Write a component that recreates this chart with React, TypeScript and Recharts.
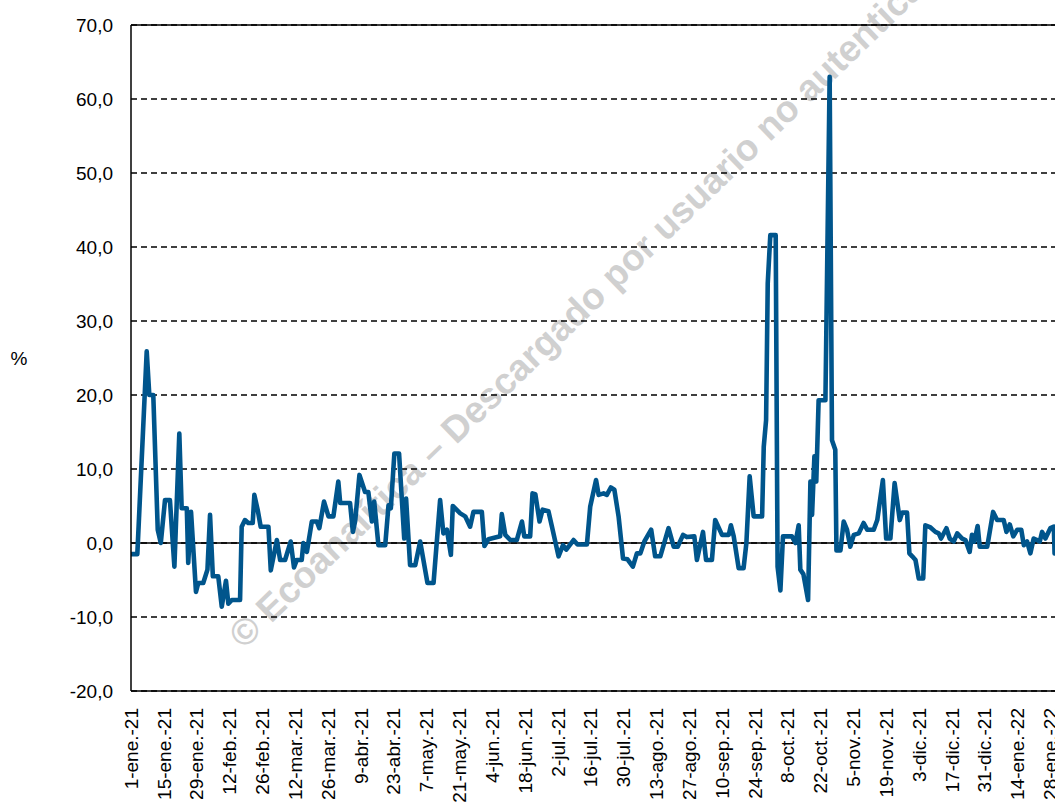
import React from 'react';
import { LineChart, Line, XAxis, YAxis, CartesianGrid, ReferenceLine } from 'recharts';

// Day offsets counted from 1-ene-21 and the series value (%) at each of them
const dayOffsets = [
  0, 2.7, 6.7, 7.8, 9.5, 11.4, 12.7, 14.5, 16.6, 18.5, 20.6, 21.6, 23.8, 24.4, 25.6, 27.7, 28.7, 30.8,
  32.6, 33.7, 34.9, 37.2, 38.7, 40.5, 41.5, 43, 46.5, 47.2, 48.6, 50, 51.9, 52.6, 54, 55.3, 58.6, 59.6,
  62.2, 63.6, 65.7, 68.1, 69.5, 70.7, 72.8, 73.5, 75, 77.1, 79.2, 80.3, 82.3, 84.2, 86.3, 88.4, 89.2,
  93.4, 94.6, 95.6, 97.4, 99.8, 101.2, 102.7, 103.7, 105.5, 108.4, 109.8, 110.8, 112.3, 114.3, 116.5,
  117.3, 119, 121.2, 123.3, 126.4, 129, 131.8, 133.2, 134.7, 136.4, 137.2, 140.4, 142.5, 144.6, 146,
  149.6, 150.7, 152.4, 157.4, 158.1, 159.6, 161.7, 164.5, 166.7, 167.7, 170.2, 171.2, 172.4, 174.2,
  175.5, 178, 179.5, 182.3, 184.2, 185.6, 188.7, 190.4, 194.4, 195.8, 198.3, 199.4, 201.5, 202.9,
  204.6, 206.1, 207.9, 209.8, 211.7, 214, 215.7, 217.2, 218.9, 221.8, 223.5, 225.7, 229.2, 231.4,
  233.1, 235.4, 237, 240.2, 241.3, 243.9, 245.2, 247.7, 249.1, 252, 254.9, 255.8, 257, 259.1, 261.2,
  262.4, 263.8, 265.5, 269.1, 269.8, 270.8, 271.5, 272.6, 274.9, 275.7, 276.9, 278, 281.8, 283.3,
  284.7, 285.4, 286.7, 288.7, 289.7, 290.4, 291.4, 292.2, 293.2, 296.1, 297.9, 298.9, 300.3, 300.8,
  302.5, 303.9, 305.3, 306.7, 308.2, 310.3, 312.4, 313.9, 316.7, 318.2, 320.6, 322, 323.8, 325.6,
  327.8, 328.8, 330.9, 331.9, 333.1, 334.5, 335.9, 337.8, 338.7, 340.9, 343, 344.4, 345.4, 347.7,
  349.1, 350.8, 352.3, 354.4, 355.8, 357.6, 358.6, 359.6, 361, 361.9, 365.1, 367.6, 369.3, 372.1,
  373.3, 374.7, 376.2, 377.9, 379.6, 380.7, 382.1, 383.5, 384.9, 386.4, 387.5, 388.5, 389.9, 392,
  393.5, 393.8, 396,
];

const seriesValues = [
  -1.5, -1.5, 25.9, 20, 20, 1.8, 0, 5.8, 5.8, -3.2, 14.8, 4.7, 4.7, -2.7, 4.2, -6.6, -5.4, -5.4,
  -3.6, 3.8, -4.5, -4.5, -8.6, -5.1, -8.2, -7.7, -7.7, 2.2, 3.1, 2.7, 2.7, 6.5, 4.5, 2.2, 2.2, -3.7,
  0.4, -2.3, -2.3, 0.2, -3.3, -2.3, -2.3, 0, -1.2, 2.9, 2.9, 2, 5.6, 3.6, 3.6, 8.3, 5.4,
  5.4, 1.5, 3, 9.2, 6.9, 6.9, 2.9, 5.6, -0.3, -0.3, 5.1, 4.7, 12.1, 12.1, 0.6,
  6, -3, -3, 0.2, -5.4, -5.4, 5.8, 1.3, 1.8, -1.6, 5, 4, 3.6, 2.2, 4.2,
  4.2, -0.4, 0.5, 0.9, 3.9, 1.1, 0.4, 0.4, 2.9, 0.9, 0.9, 6.7, 6.6, 2.9,
  4.5, 4.3, 2.2, -1.8, -0.3, -0.9, 0.4, -0.2, -0.2, 4.9, 8.5, 6.5, 6.7, 6.5,
  7.5, 7.2, 3.6, -2.1, -2.2, -3.2, -1.4, -1.4, 0.2, 1.8, -1.8, -1.8, 2, -0.5,
  -0.5, 1.1, 0.8, 0.9, -2.3, 1.5, -2.3, -2.3, 3.1, 1.1, 1.1, 2.4, 0.9, -3.4, -3.4,
  0, 9, 3.6, 3.6, 13, 16.6, 35.1, 41.6, 41.6, -3.2, -6.4, 0.9, 0.9, 0,
  2.4, -3.6, -4.2, -7.7, 8.3, 3.8, 11.7, 8.3, 19.3, 19.3, 63, 13.9, 12.6, -1,
  -1, 2.9, 1.8, -0.5, 1.1, 1.3, 2.7, 1.8, 1.8, 3.1, 8.5, 0.6, 0.6, 8.1,
  3.1, 4.1, 4.1, -1.4, -1.8, -2.3, -4.8, -4.8, 2.4, 2.1, 1.5, 1.3, 0.6, 2,
  0.6, 0.2, 1.3, 0.6, 0.4, -1.2, 1.1, 0.2, 2.3, -0.5, -0.5, 4.2, 3.1, 3.1,
  1.5, 2.5, 0.9, 1.8, 1.8, -0.3, 0.2, -1.4, 0.6, 0.4, 0.2, 1.5, 0.6, 2,
  2.2, -1.4, -1.4,
];

const tickDays = [0, 14, 28, 42, 56, 70, 84, 98, 112, 126, 140, 154, 168, 182, 196, 210, 224, 238, 252, 266, 280, 294, 308, 322, 336, 350, 364, 378, 392];
const tickLabels = [
  '1-ene.-21', '15-ene.-21', '29-ene.-21', '12-feb.-21', '26-feb.-21', '12-mar.-21', '26-mar.-21',
  '9-abr.-21', '23-abr.-21', '7-may.-21', '21-may.-21', '4-jun.-21', '18-jun.-21', '2-jul.-21',
  '16-jul.-21', '30-jul.-21', '13-ago.-21', '27-ago.-21', '10-sep.-21', '24-sep.-21', '8-oct.-21',
  '22-oct.-21', '5-nov.-21', '19-nov.-21', '3-dic.-21', '17-dic.-21', '31-dic.-21', '14-ene.-22',
  '28-ene.-22',
];
const yTicks = [-20, -10, 0, 10, 20, 30, 40, 50, 60, 70];

const data = dayOffsets.map((d, i) => ({ d, v: seriesValues[i] }));

const FONT = '"Liberation Sans", Arial, sans-serif';

const XTick = (props: any) => {
  const { x, y, payload } = props;
  const idx = tickDays.indexOf(payload.value);
  const label = idx >= 0 ? tickLabels[idx] : '';
  const ty = y + 17;
  return (
    <text
      x={x}
      y={ty}
      dy="0.36em"
      textAnchor="end"
      transform={`rotate(-90, ${x}, ${ty})`}
      fontSize={19}
      fontFamily={FONT}
      fill="#000"
    >
      {label}
    </text>
  );
};

const YTick = (props: any) => {
  const { x, y, payload } = props;
  return (
    <text x={x - 18} y={y} dy="0.36em" textAnchor="end" fontSize={19} fontFamily={FONT} fill="#000">
      {Number(payload.value).toFixed(1).replace('.', ',')}
    </text>
  );
};

export default function App() {
  return (
    <div
      style={{
        position: 'absolute',
        left: 0,
        top: 0,
        width: 1055,
        height: 803,
        overflow: 'hidden',
        background: '#fff',
      }}
    >
      <svg width={1055} height={803} style={{ position: 'absolute', left: 0, top: 0 }}>
        <text
          x={244}
          y={650}
          transform="rotate(-44, 244, 650)"
          fontSize={37}
          fontWeight="bold"
          fontFamily={FONT}
          fill="#d0d0d0"
        >
          © Ecoanalítica – Descargado por usuario no autenticado
        </text>
        <text x={19} y={358} dy="0.36em" textAnchor="middle" fontSize={19} fontFamily={FONT} fill="#000">
          %
        </text>
      </svg>
      <div style={{ position: 'absolute', left: 0, top: 0 }}>
        <LineChart width={1120} height={803} data={data} margin={{ top: 25, right: 4, bottom: 12, left: 0 }}>
          <CartesianGrid horizontal vertical={false} stroke="#000" strokeWidth={1.5} strokeDasharray="6 4" />
          <XAxis
            type="number"
            dataKey="d"
            domain={[0, 420]}
            ticks={tickDays}
            interval={0}
            allowDataOverflow
            height={100}
            tickLine={false}
            tickSize={0}
            tickMargin={0}
            tick={<XTick />}
            axisLine={{ stroke: '#000', strokeWidth: 1.5 }}
          />
          <YAxis
            type="number"
            domain={[-20, 70]}
            ticks={yTicks}
            interval={0}
            allowDataOverflow
            width={131}
            tickLine={false}
            tickSize={0}
            tickMargin={0}
            tick={<YTick />}
            axisLine={{ stroke: '#000', strokeWidth: 1.5 }}
          />
          <ReferenceLine y={70} stroke="#000" strokeWidth={1.5} />
          <ReferenceLine y={0} stroke="#000" strokeWidth={1.5} />
          <Line
            type="linear"
            dataKey="v"
            stroke="#00558c"
            strokeWidth={4.6}
            dot={false}
            activeDot={false}
            isAnimationActive={false}
            strokeLinejoin="round"
          />
        </LineChart>
      </div>
    </div>
  );
}
